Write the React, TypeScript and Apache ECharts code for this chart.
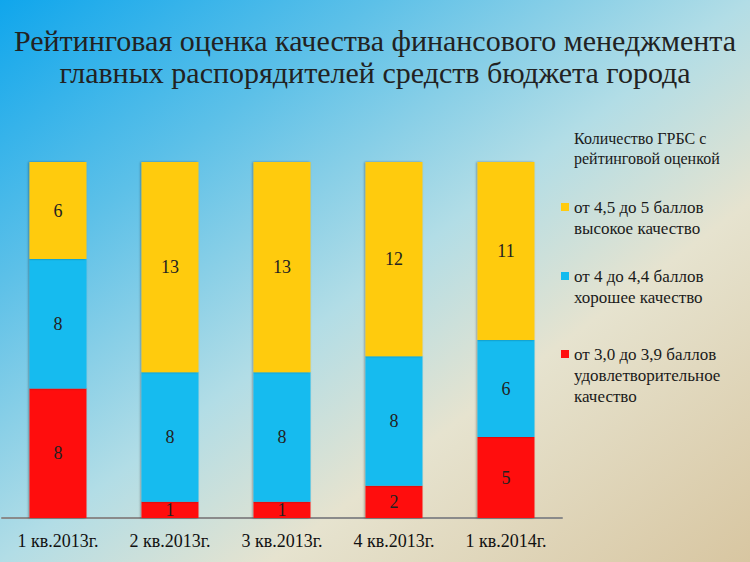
import { useEffect, useRef } from 'react';
import * as echarts from 'echarts';

const categories = ['1 кв.2013г.', '2 кв.2013г.', '3 кв.2013г.', '4 кв.2013г.', '1 кв.2014г.'];
const satisfactory = [8, 1, 1, 2, 5];
const good = [8, 8, 8, 8, 6];
const high = [6, 13, 13, 12, 11];

const nameHigh = 'от 4,5 до 5 баллов\nвысокое качество';
const nameGood = 'от 4 до 4,4 баллов\nхорошее качество';
const nameSat = 'от 3,0 до 3,9 баллов\nудовлетворительное\nкачество';

const titleLines = [
  'Рейтинговая оценка качества финансового менеджмента',
  'главных распорядителей средств бюджета города',
];
const headerLines = ['Количество ГРБС с', 'рейтинговой оценкой'];

const FONT = 'Liberation Serif';
const LH = 21;

export default function App() {
  const chartRef = useRef<HTMLDivElement>(null);

  useEffect(() => {
    document.body.style.margin = '0';
    if (!chartRef.current) return;
    const chart = echarts.init(chartRef.current, undefined, { renderer: 'svg' });

    const label = {
      show: true,
      position: 'inside' as const,
      color: '#222',
      fontSize: 18,
      fontFamily: FONT,
    };
    const bar = (name: string, data: number[], color: string) => ({
      name,
      type: 'bar' as const,
      stack: 'total',
      data,
      barWidth: 57,
      label,
      itemStyle: {
        color,
        shadowColor: 'rgba(0,0,0,0.35)',
        shadowBlur: 2,
        shadowOffsetX: -1,
      },
    });
    // blank lines in front keep the marker level with the first line of text
    const legendItem = (name: string, lines: number, centre: number) => ({
      orient: 'vertical' as const,
      left: 561,
      top: centre - ((2 * lines - 1) * LH) / 2,
      padding: 0,
      itemWidth: 8,
      itemHeight: 8,
      selectedMode: false,
      icon: 'rect',
      data: [name],
      formatter: (n: string) => '\n'.repeat(lines - 1) + n,
      textStyle: {
        fontFamily: FONT,
        fontSize: 17,
        lineHeight: LH,
        color: '#1a1a1a',
      },
    });

    chart.setOption({
      animation: false,
      textStyle: { fontFamily: FONT },
      title: [
        ...titleLines.map((t, i) => ({
          text: t,
          left: 'center',
          top: 20 + i * 32,
          textStyle: {
            fontFamily: FONT,
            fontSize: 30,
            fontWeight: 'normal',
            color: '#222',
          },
        })),
        ...headerLines.map((t, i) => ({
          text: t,
          left: 574,
          top: 130 + i * 20,
          padding: 0,
          textStyle: {
            fontFamily: FONT,
            fontSize: 16,
            fontWeight: 'normal',
            color: '#1a1a1a',
          },
        })),
      ],
      legend: [
        legendItem(nameHigh, 2, 207),
        legendItem(nameGood, 2, 276),
        legendItem(nameSat, 3, 354),
      ],
      grid: { left: 2, right: 188, top: 162, bottom: 44 },
      xAxis: {
        type: 'category',
        data: categories,
        axisLine: { lineStyle: { color: '#8a8a8a', width: 2 } },
        axisTick: { show: false },
        axisLabel: {
          color: '#111',
          fontFamily: FONT,
          fontSize: 18,
          margin: 14,
        },
      },
      yAxis: {
        type: 'value',
        min: 0,
        max: 22,
        show: false,
      },
      series: [
        bar(nameSat, satisfactory, '#ff1010'),
        bar(nameGood, good, '#12bbef'),
        bar(nameHigh, high, '#ffcb10'),
      ],
    });

    return () => chart.dispose();
  }, []);

  return (
    <div
      ref={chartRef}
      style={{
        width: 750,
        height: 562,
        background:
          'linear-gradient(to bottom right, #10a6ec 0%, #5cc0e8 25%, #b2dde6 50%, #e6e3cf 68%, #d8c6a1 100%)',
      }}
    />
  );
}
